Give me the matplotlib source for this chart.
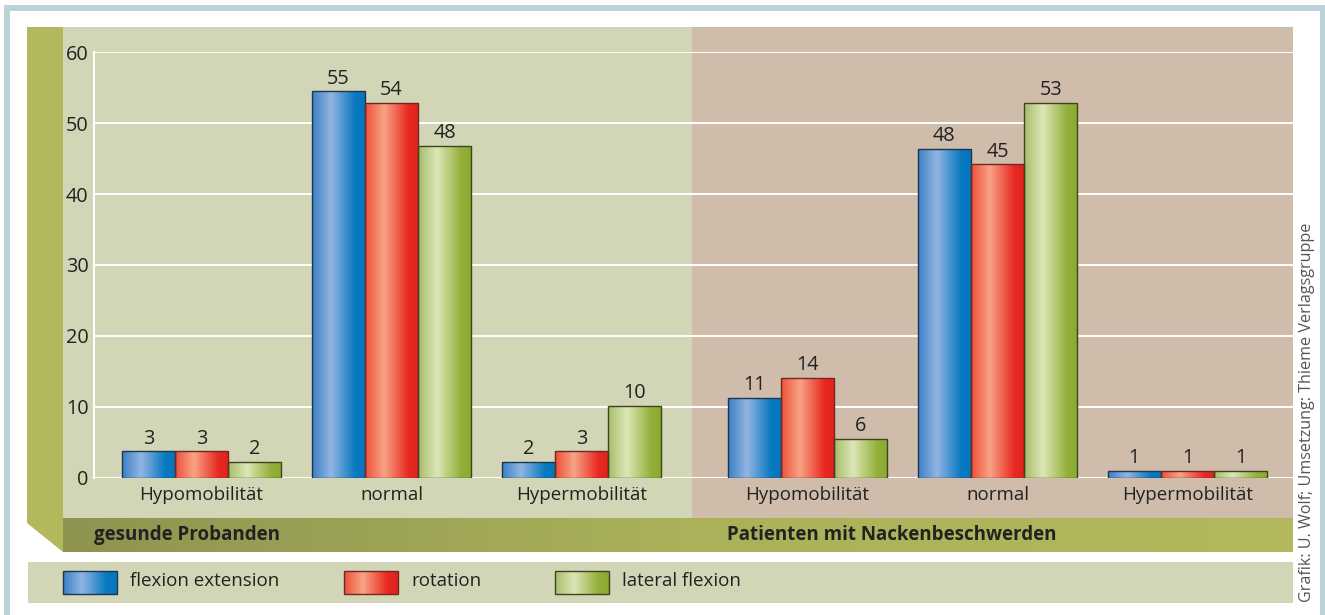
import numpy as np
import matplotlib
matplotlib.use('Agg')
import matplotlib.pyplot as plt
from matplotlib.colors import LinearSegmentedColormap
from matplotlib.patches import Rectangle, Polygon

plt.rcParams['font.family'] = ['Open Sans', 'DejaVu Sans']

# data
categories = ['Hypomobilität', 'normal', 'Hypermobilität',
              'Hypomobilität', 'normal', 'Hypermobilität']
groups = ['gesunde Probanden', 'Patienten mit Nackenbeschwerden']
series = ['flexion extension', 'rotation', 'lateral flexion']
# bar heights as drawn in the picture
flexion_h = [3.7, 54.5, 2.2, 11.3, 46.4, 1.0]
rotation_h = [3.7, 52.9, 3.7, 14.1, 44.2, 1.0]
lateral_h = [2.2, 46.8, 10.1, 5.5, 52.9, 1.0]
# value labels printed over the bars
flexion_lab = [3, 55, 2, 11, 48, 1]
rotation_lab = [3, 54, 3, 14, 45, 1]
lateral_lab = [2, 48, 10, 6, 53, 1]
yticks = [0, 10, 20, 30, 40, 50, 60]
credit = 'Grafik: U. Wolf; Umsetzung: Thieme Verlagsgruppe'

W, H = 1325, 615
fs = 13.5
fs_num = 14.3
fig = plt.figure(figsize=(W / 100, H / 100), dpi=100)
fig.patch.set_facecolor('white')

# gradients for the bars (left -> light stripe -> right)
cmaps = [
    LinearSegmentedColormap.from_list('b', [(0, '#3a80c6'), (0.35, '#92b5e2'), (0.8, '#0879c0'), (1, '#0677bf')]),
    LinearSegmentedColormap.from_list('r', [(0, '#ee4f38'), (0.35, '#f8a385'), (0.8, '#e82a22'), (1, '#e3201e')]),
    LinearSegmentedColormap.from_list('g', [(0, '#a6bc68'), (0.35, '#dde6b8'), (0.8, '#93b03a'), (1, '#8aaa2e')]),
]
edges = ['#1d3550', '#6e2a22', '#3c4520']
grad = np.linspace(0, 1, 256).reshape(1, -1)

# background in pixel coordinates
bg = fig.add_axes([0, 0, 1, 1])
bg.set_xlim(0, W)
bg.set_ylim(H, 0)
bg.axis('off')

frame = '#b9d3d8'
bg.add_patch(Rectangle((4, 5), W - 4, 6, color=frame, lw=0))
bg.add_patch(Rectangle((4, 5), 6, H, color=frame, lw=0))
bg.add_patch(Rectangle((1320, 5), 6, H, color=frame, lw=0))

bg.add_patch(Rectangle((63, 27), 692 - 63, 518 - 27, color='#d2d5b6', lw=0))
bg.add_patch(Rectangle((692, 27), 1293 - 692, 518 - 27, color='#cfbcaa', lw=0))
bg.add_patch(Polygon([(27, 27), (63, 27), (63, 552), (27, 523)], closed=True, color='#b3b85c', lw=0))

band = LinearSegmentedColormap.from_list('band', [(0, '#8e9450'), (0.5, '#aab159'), (1, '#b3b85c')])
bg.imshow(grad, cmap=band, extent=(63, 1293, 552, 518), aspect='auto', zorder=1)
bg.text(94, 535, groups[0], fontsize=fs, fontweight='bold', color='#222222', ha='left', va='center', zorder=3)
bg.text(892, 535, groups[1], fontsize=fs, fontweight='bold', color='#222222', ha='center', va='center', zorder=3)

# legend band
bg.add_patch(Rectangle((28, 562), 1293 - 28, 41, color='#d2d5b6', lw=0))
leg_x = [63, 344, 555]
for i in range(3):
    x0 = leg_x[i]
    bg.imshow(grad, cmap=cmaps[i], extent=(x0, x0 + 54, 594, 571), aspect='auto', zorder=3)
    bg.add_patch(Rectangle((x0, 571), 54, 23, fc='none', ec=edges[i], lw=1.0, zorder=4))
    bg.text(x0 + 67, 581.5, series[i], fontsize=fs, color='#222222', ha='left', va='center')

bg.text(1307, 602, credit, rotation=90, fontsize=11.6, color='#555555', ha='center', va='bottom')
bg.set_xlim(0, W)
bg.set_ylim(H, 0)

# main chart
ax = fig.add_axes([94 / W, 1 - 477.7 / H, (1293 - 94) / W, (477.7 - 52.3) / H])
ax.patch.set_alpha(0)
for s in ['top', 'right', 'bottom']:
    ax.spines[s].set_visible(False)
ax.spines['left'].set_color('white')
ax.spines['left'].set_linewidth(1.5)
ax.set_axisbelow(True)
ax.yaxis.grid(True, color='white', lw=1.4)

x = np.arange(len(categories)) + np.where(np.arange(len(categories)) >= 3, 0.19, 0)
bw = 0.28
heights = [flexion_h, rotation_h, lateral_h]
labels = [flexion_lab, rotation_lab, lateral_lab]
for i in range(3):
    bars = ax.bar(x + (i - 1) * bw, heights[i], bw, facecolor='none',
                  edgecolor=edges[i], linewidth=1.0, zorder=4)
    for b, lab in zip(bars, labels[i]):
        x0, y0 = b.get_x(), b.get_y()
        im = ax.imshow(grad, cmap=cmaps[i], aspect='auto', zorder=3,
                       extent=(x0, x0 + b.get_width(), y0, y0 + b.get_height()))
        im.set_clip_path(b)
        ax.annotate(str(lab), (x0 + b.get_width() / 2, y0 + b.get_height()),
                    xytext=(0, 2), textcoords='offset points',
                    ha='center', va='bottom', fontsize=fs_num, color='#222222')

ax.set_xlim(-0.566, 5.745)
ax.set_ylim(0, 60)
ax.set_yticks(yticks)
ax.set_xticks(x)
ax.set_xticklabels(categories)
ax.tick_params(axis='both', length=0, labelsize=fs, labelcolor='#222222')
ax.tick_params(axis='y', pad=4, labelsize=fs_num)
ax.tick_params(axis='x', pad=6)

fig.savefig('out.png', dpi=100)
